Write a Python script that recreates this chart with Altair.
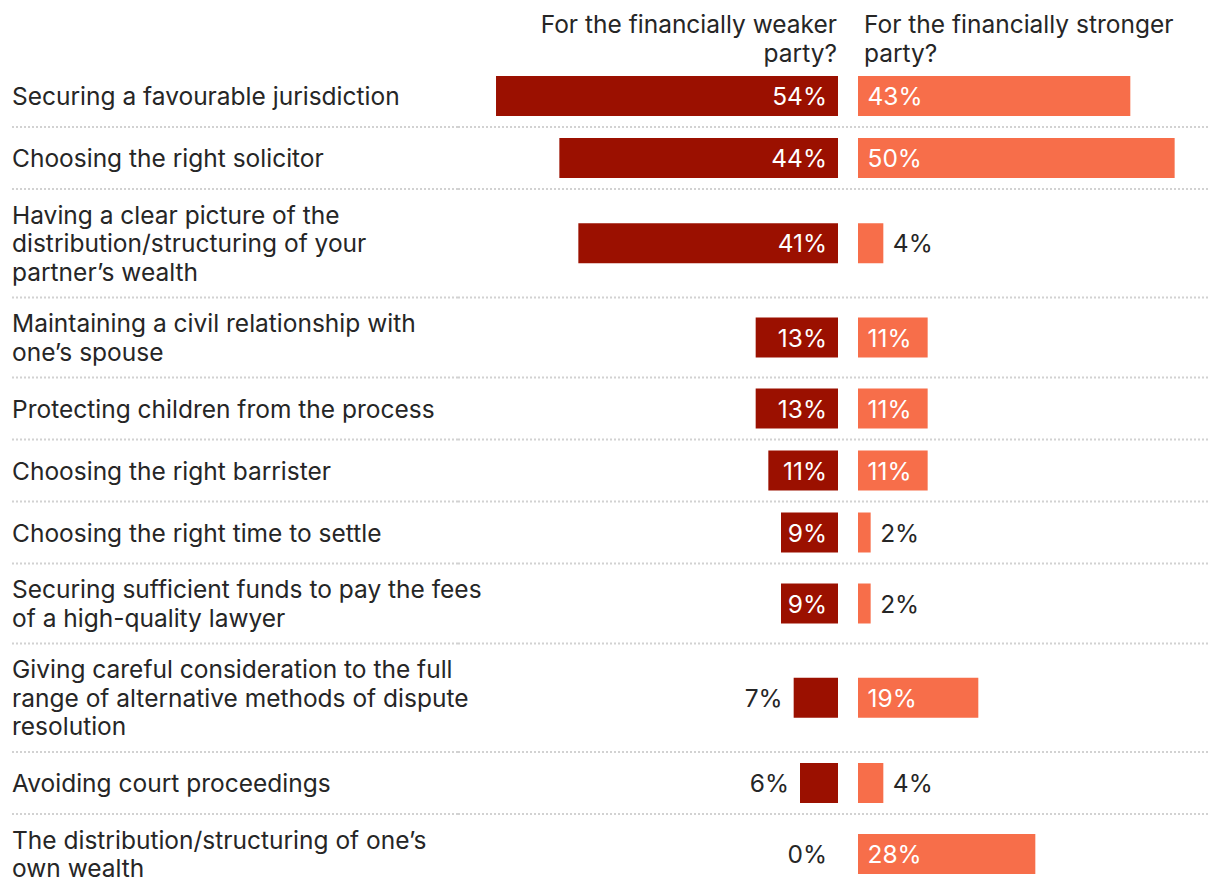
import altair as alt
import pandas as pd

labels = [
    "Securing a favourable jurisdiction",
    "Choosing the right solicitor",
    "Having a clear picture of the\ndistribution/structuring of your\npartner’s wealth",
    "Maintaining a civil relationship with\none’s spouse",
    "Protecting children from the process",
    "Choosing the right barrister",
    "Choosing the right time to settle",
    "Securing sufficient funds to pay the fees\nof a high-quality lawyer",
    "Giving careful consideration to the full\nrange of alternative methods of dispute\nresolution",
    "Avoiding court proceedings",
    "The distribution/structuring of one’s\nown wealth",
]
weak = [54, 44, 41, 13, 13, 11, 9, 9, 7, 6, 0]
strong = [43, 50, 4, 11, 11, 11, 2, 2, 19, 4, 28]
header_weak = "For the financially weaker\nparty?"
header_strong = "For the financially stronger\nparty?"

# layout constants (pixels)
FONT = "Inter"
FS = 24.5
LINE_H = 28.5
ROW_MIN = 62
ROW_PAD = 23
TOP = 57
BAR_H = 40
K = 6.333  # pixels per percentage point
GAP = 20
W_A, W_B, W_C = 450, 380, 370
DY = 2
DARK = "#9b1000"
LIGHT = "#f76e4a"
TEXT = "#262626"
GRID = "#d2d2d2"
THRESH = 8

rows = []
y = TOP
for lab, w, s in zip(labels, weak, strong):
    n = lab.count("\n") + 1
    h = max(ROW_MIN, ROW_PAD + LINE_H * n)
    rows.append({"label": lab, "weak": w, "strong": s,
                 "center": y + h / 2, "bottom": y + h,
                 "label_y": y + h / 2 - (n - 1) * LINE_H / 2})
    y += h
H = y
df = pd.DataFrame(rows)
df["wtxt"] = df["weak"].astype(str) + "%"
df["stxt"] = df["strong"].astype(str) + "%"
seps = df.iloc[:-1]

yscale = alt.Scale(domain=[0, H], range=[0, H], nice=False, zero=False, padding=0)
xb = alt.Scale(domain=[0, W_B / K], reverse=True, nice=False, zero=False, padding=0)
xc = alt.Scale(domain=[-GAP / K, (W_C - GAP) / K], nice=False, zero=False, padding=0)

base = alt.Chart(df)
hdr = alt.Chart(pd.DataFrame({"h": [0]}))

# Panel A: category labels
labels_layer = base.mark_text(align="left", baseline="middle", font=FONT, fontSize=FS, dy=DY,
                              lineBreak="\n", lineHeight=LINE_H, color=TEXT).encode(
    x=alt.value(4),
    y=alt.Y("label_y:Q", scale=yscale, axis=None),
    text="label:N",
)
rules_a = alt.Chart(seps).mark_rule(color=GRID, strokeWidth=2, strokeDash=[2, 2]).encode(
    x=alt.value(4), x2=alt.value(W_A),
    y=alt.Y("bottom:Q", scale=yscale, axis=None),
)
panel_a = alt.layer(rules_a, labels_layer).properties(width=W_A, height=H)

# Panel B: weaker party (bars grow leftwards)
rules_b = alt.Chart(seps).mark_rule(color=GRID, strokeWidth=2, strokeDash=[2, 2]).encode(
    x=alt.value(0), x2=alt.value(W_B),
    y=alt.Y("bottom:Q", scale=yscale, axis=None),
)
bars_b = base.mark_bar(orient="horizontal", size=BAR_H, color=DARK).encode(
    x=alt.X("weak:Q", scale=xb, axis=None), x2=alt.datum(0),
    y=alt.Y("center:Q", scale=yscale, axis=None),
)
txt_b = base.transform_calculate(
    pos=f"datum.weak >= {THRESH} ? 0 : datum.weak",
    inside=f"datum.weak >= {THRESH}",
).mark_text(align="right", baseline="middle", font=FONT, fontSize=FS, dx=-11, dy=DY).encode(
    x=alt.X("pos:Q", scale=xb, axis=None),
    y=alt.Y("center:Q", scale=yscale, axis=None),
    text="wtxt:N",
    color=alt.condition("datum.inside", alt.value("white"), alt.value(TEXT)),
)
head_b = hdr.mark_text(align="right", baseline="middle", font=FONT, fontSize=FS, dy=DY,
                       lineBreak="\n", lineHeight=LINE_H, color=TEXT).encode(
    x=alt.value(W_B - 1), y=alt.value(16), text=alt.value(header_weak))
panel_b = alt.layer(rules_b, bars_b, txt_b, head_b).properties(width=W_B, height=H)

# Panel C: stronger party
rules_c = alt.Chart(seps).mark_rule(color=GRID, strokeWidth=2, strokeDash=[2, 2]).encode(
    x=alt.value(0), x2=alt.value(W_C),
    y=alt.Y("bottom:Q", scale=yscale, axis=None),
)
bars_c = base.mark_bar(orient="horizontal", size=BAR_H, color=LIGHT).encode(
    x=alt.X("strong:Q", scale=xc, axis=None), x2=alt.datum(0),
    y=alt.Y("center:Q", scale=yscale, axis=None),
)
txt_c = base.transform_calculate(
    pos=f"datum.strong >= {THRESH} ? 0 : datum.strong",
    inside=f"datum.strong >= {THRESH}",
).mark_text(align="left", baseline="middle", font=FONT, fontSize=FS, dx=9.5, dy=DY).encode(
    x=alt.X("pos:Q", scale=xc, axis=None),
    y=alt.Y("center:Q", scale=yscale, axis=None),
    text="stxt:N",
    color=alt.condition("datum.inside", alt.value("white"), alt.value(TEXT)),
)
head_c = hdr.mark_text(align="left", baseline="middle", font=FONT, fontSize=FS, dy=DY,
                       lineBreak="\n", lineHeight=LINE_H, color=TEXT).encode(
    x=alt.value(GAP + 6), y=alt.value(16), text=alt.value(header_strong))
panel_c = alt.layer(rules_c, bars_c, txt_c, head_c).properties(width=W_C, height=H)

chart = alt.hconcat(panel_a, panel_b, panel_c, spacing=0, bounds="flush").properties(
    padding=0, background="white"
).configure_view(stroke=None).configure_concat(spacing=0)

chart.save("out.html", embed_options={"renderer": "svg", "actions": False})
